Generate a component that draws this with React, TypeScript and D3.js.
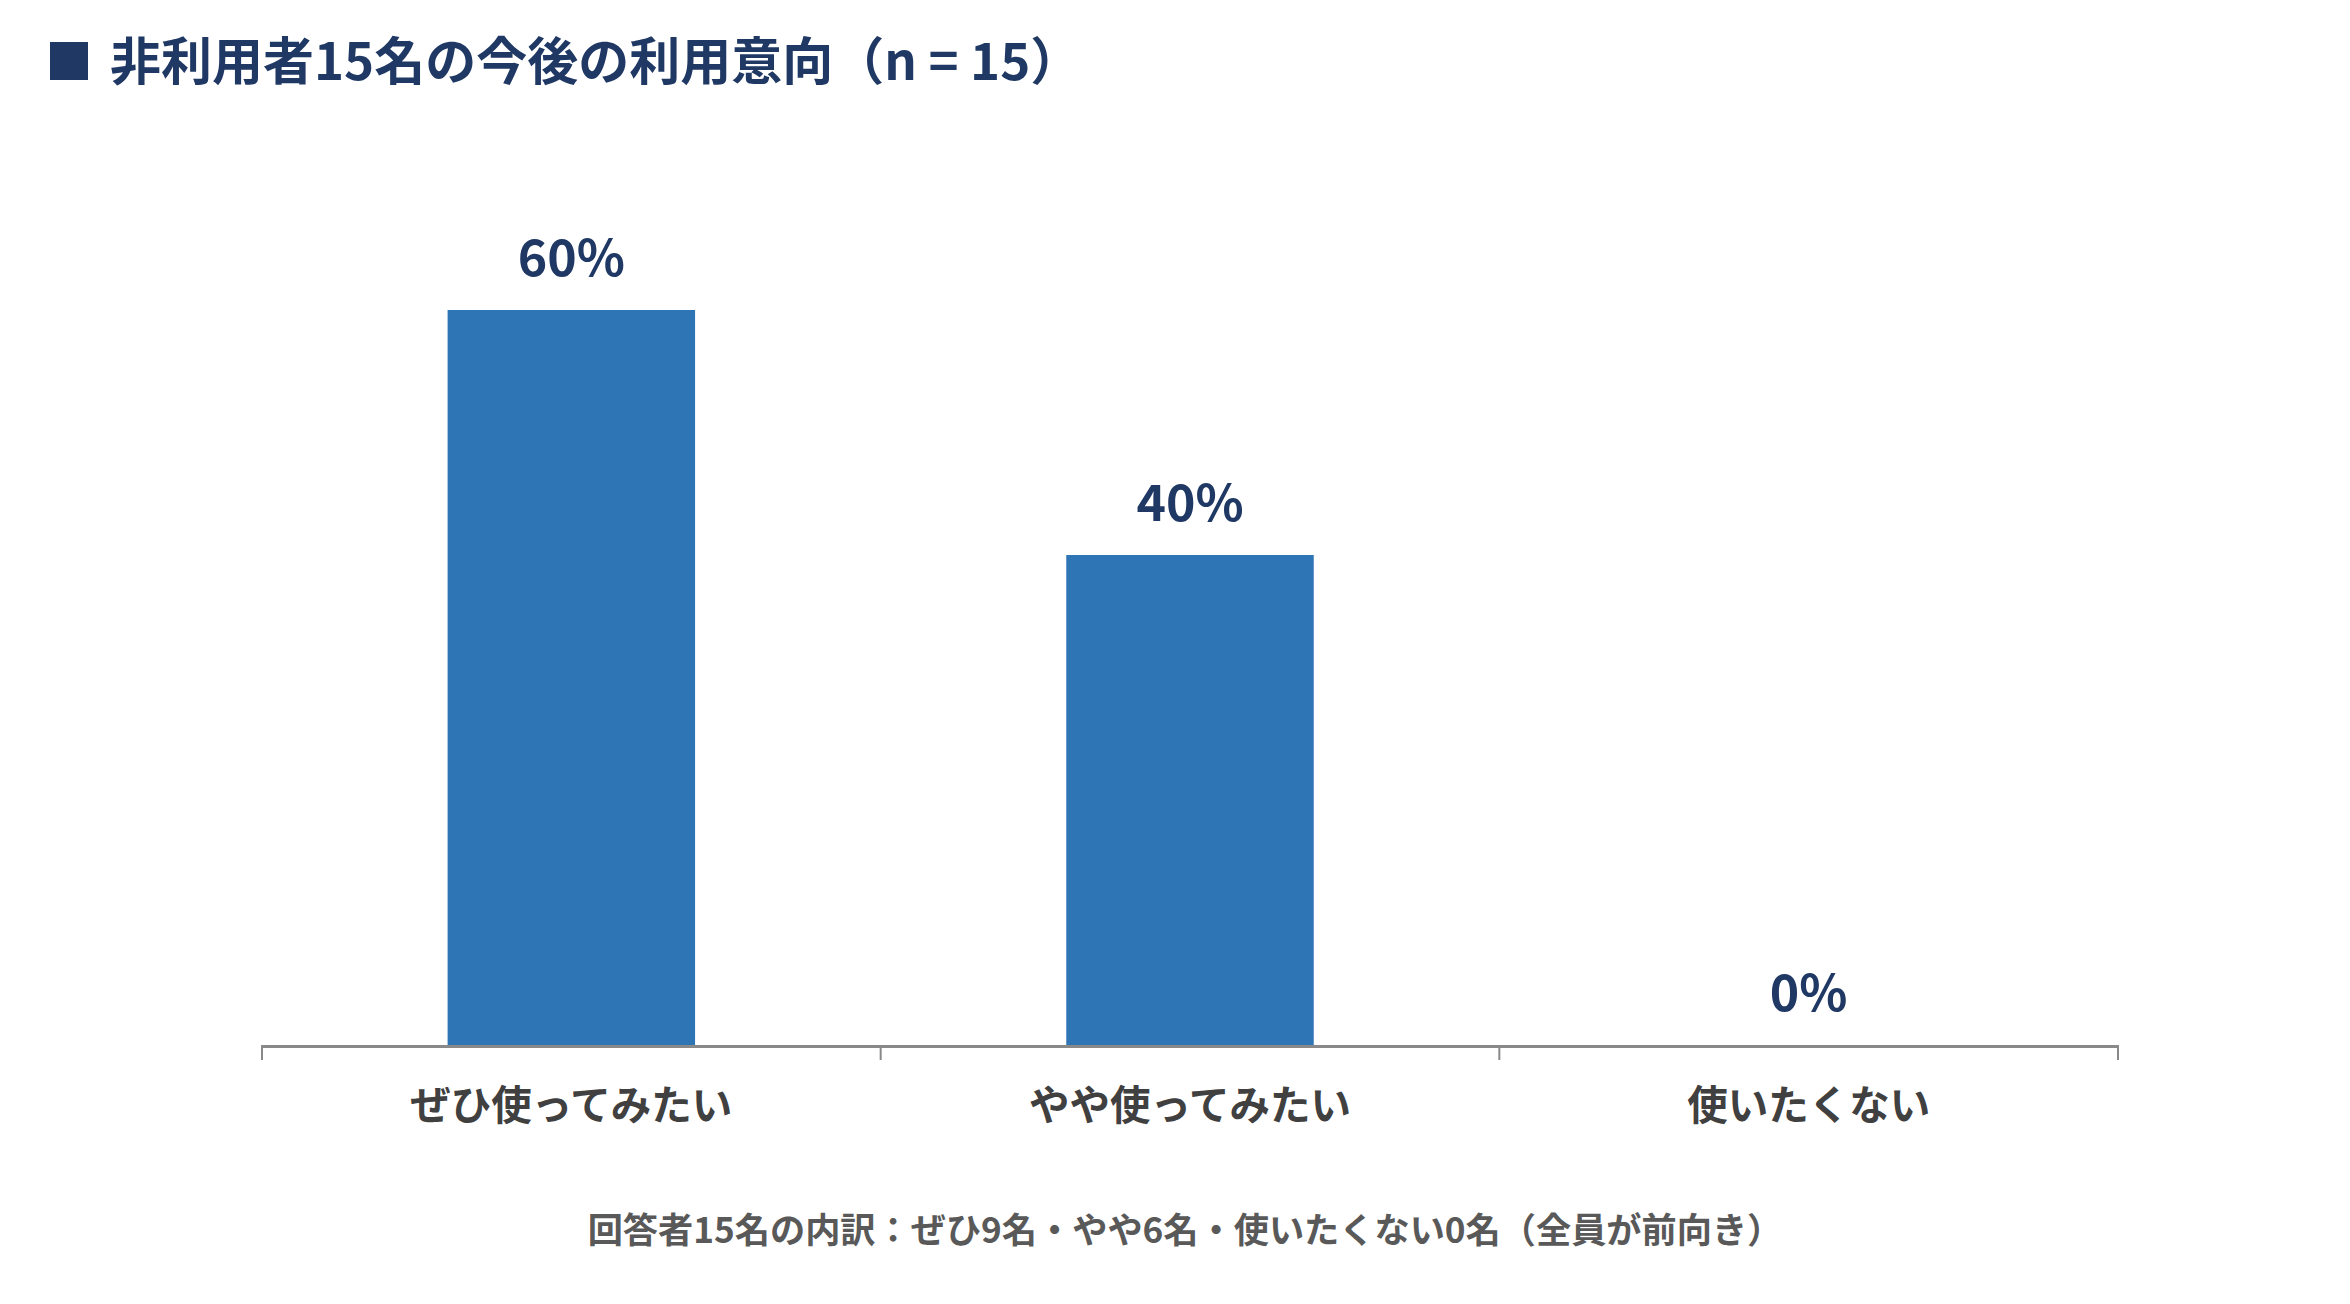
import React from 'react';
import * as d3 from 'd3';

const categories = ['ぜひ使ってみたい', 'やや使ってみたい', '使いたくない'];
const percents = [60, 40, 0];
const counts = [9, 6, 0];
const titleText = '非利用者15名の今後の利用意向（n = 15）';
const footerText = `回答者15名の内訳：ぜひ${counts[0]}名・やや${counts[1]}名・使いたくない${counts[2]}名（全員が前向き）`;

const W = 2350;
const H = 1304;
const FONT = '"Noto Sans CJK JP", "Noto Sans", sans-serif';

const App: React.FC = () => {
  const margin = { left: 262, right: 232, axis: 1045 };

  const x = d3.scaleBand<string>()
    .domain(categories)
    .range([margin.left, W - margin.right])
    .paddingInner(0.6)
    .paddingOuter(0.3);

  const y = d3.scaleLinear()
    .domain([0, 70])
    .range([margin.axis, margin.axis - 70 * 12.25]);

  // tick positions sit at band boundaries
  const step = x.step();
  const start = x.range()[0];
  const end = start + step * categories.length;
  const tickXs = d3.range(categories.length + 1).map(i => start + i * step);

  return (
    <svg width={W} height={H} style={{ position: 'absolute', left: 0, top: 0, background: '#fff' }}>
      <rect x={50} y={42} width={38} height={38} fill="#1f3864" />
      <text x={110} y={80} fontFamily={FONT} fontWeight={700} fontSize={51} fill="#1f3864">
        {titleText}
      </text>

      {categories.map((c, i) => (
        <g key={c}>
          <rect
            x={x(c)}
            y={y(percents[i])}
            width={x.bandwidth()}
            height={y(0) - y(percents[i])}
            fill="#2e75b6"
          />
          <text
            x={(x(c) || 0) + x.bandwidth() / 2}
            y={y(percents[i]) - 34}
            textAnchor="middle"
            fontFamily={FONT}
            fontWeight={700}
            fontSize={50}
            fill="#1f3864"
          >
            {percents[i]}%
          </text>
          <text
            x={(x(c) || 0) + x.bandwidth() / 2}
            y={1120}
            textAnchor="middle"
            fontFamily={FONT}
            fontWeight={700}
            fontSize={40.5}
            fill="#404040"
          >
            {c}
          </text>
        </g>
      ))}

      <line x1={start} x2={end} y1={margin.axis + 1.5} y2={margin.axis + 1.5}
        stroke="#898989" strokeWidth={3} />
      {tickXs.map((tx, i) => (
        <line key={i} x1={tx} x2={tx} y1={margin.axis} y2={margin.axis + 15} stroke="#898989" strokeWidth={2} />
      ))}

      <text x={1185} y={1243} textAnchor="middle"
        fontFamily={FONT} fontWeight={700} fontSize={35.2} fill="#595959">
        {footerText}
      </text>
    </svg>
  );
};

export default App;
